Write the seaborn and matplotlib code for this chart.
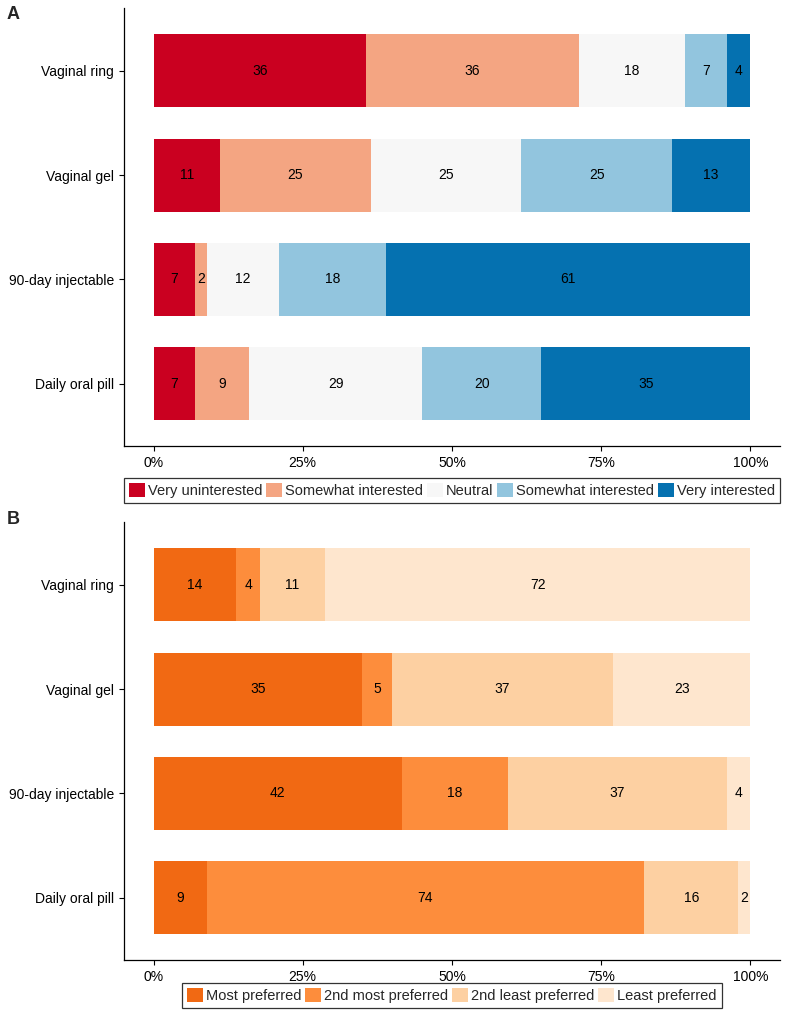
import numpy as np
import pandas as pd
import seaborn as sns
import matplotlib.pyplot as plt
from matplotlib.patches import Patch

products = ['Vaginal ring', 'Vaginal gel', '90-day injectable', 'Daily oral pill']

# Panel A: interest in each product (percent)
interest_levels = ['Very uninterested', 'Somewhat interested', 'Neutral',
                   'Somewhat interested', 'Very interested']
interest_colors = ['#CA0020', '#F4A582', '#F7F7F7', '#92C5DE', '#0571B0']
interest = [
    [36, 36, 18, 7, 4],
    [11, 25, 25, 25, 13],
    [7, 2, 12, 18, 61],
    [7, 9, 29, 20, 35],
]

# Panel B: preference ranking (percent)
pref_levels = ['Most preferred', '2nd most preferred', '2nd least preferred',
               'Least preferred']
pref_colors = ['#F16913', '#FD8D3C', '#FDD0A2', '#FEE6CE']
preference = [
    [14, 4, 11, 72],
    [35, 5, 37, 23],
    [42, 18, 37, 4],
    [9, 74, 16, 2],
]

sns.set_style('ticks')
plt.rcParams['font.family'] = ['Liberation Sans', 'DejaVu Sans']


def stacked_panel(ax, values, levels, colors, legend_y):
    vals = np.array(values, dtype=float)
    props = vals / vals.sum(axis=1, keepdims=True)
    cum = np.cumsum(props, axis=1)
    # draw cumulative bars from the back so each segment shows through
    for j in range(len(levels) - 1, -1, -1):
        df = pd.DataFrame({'product': products, 'value': cum[:, j]})
        sns.barplot(data=df, x='value', y='product', order=products,
                    color=colors[j], saturation=1, width=0.7,
                    edgecolor='none', linewidth=0, ax=ax)
    for i in range(len(products)):
        for j in range(len(levels)):
            ax.text(cum[i, j] - props[i, j] / 2, i, '%d' % values[i][j],
                    ha='center', va='center', fontsize=10, color='black')
    ax.set_xlim(-0.05, 1.05)
    ax.set_ylim(len(products) - 0.4, -0.6)
    ax.set_xticks([0, 0.25, 0.5, 0.75, 1])
    ax.set_xticklabels(['0%', '25%', '50%', '75%', '100%'])
    ax.set_xlabel('')
    ax.set_ylabel('')
    ax.tick_params(labelsize=10, length=3.5, width=0.8, colors='black')
    for s in ['top', 'right']:
        ax.spines[s].set_visible(False)
    for s in ['left', 'bottom']:
        ax.spines[s].set_color('black')
        ax.spines[s].set_linewidth(0.9)
    handles = [Patch(facecolor=c, edgecolor='none') for c in colors]
    leg = ax.legend(handles, levels, loc='upper center',
                    bbox_to_anchor=(0.5, legend_y), ncol=len(levels),
                    fontsize=10.5, frameon=True, fancybox=False,
                    handlelength=1.1, handleheight=1.1, handletextpad=0.2,
                    columnspacing=0.25, borderpad=0.35, borderaxespad=0)
    leg.get_frame().set_edgecolor('black')
    leg.get_frame().set_linewidth(0.9)


fig = plt.figure(figsize=(7.88, 10.28), dpi=100)
ax_a = fig.add_axes([0.157, 0.566, 0.833, 0.426])
ax_b = fig.add_axes([0.157, 0.066, 0.833, 0.426])

stacked_panel(ax_a, interest, interest_levels, interest_colors, -0.072)
stacked_panel(ax_b, preference, pref_levels, pref_colors, -0.052)

fig.text(0.008, 0.982, 'A', fontsize=13, fontweight='bold', ha='left')
fig.text(0.008, 0.490, 'B', fontsize=13, fontweight='bold', ha='left')

fig.savefig('out.png', dpi=100)
